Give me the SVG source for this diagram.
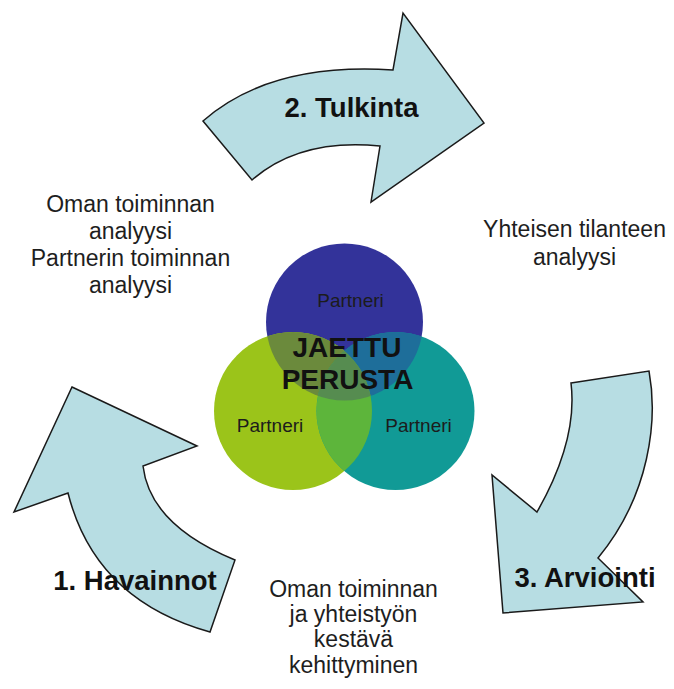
<svg xmlns="http://www.w3.org/2000/svg" width="674" height="689" viewBox="0 0 674 689">
  <style>
    .arrow { fill: #b7dde3; stroke: #1a1a1a; stroke-width: 1.5; stroke-linejoin: miter; }
    .step { font-family: "Liberation Sans", Arial, sans-serif; font-weight: bold; font-size: 27.5px; fill: #111; text-anchor: middle; }
    .note { font-family: "Liberation Sans", Arial, sans-serif; font-size: 23px; fill: #1e1e1e; text-anchor: middle; }
    .partner { font-family: "Liberation Sans", Arial, sans-serif; font-size: 19px; fill: #1c1c1c; text-anchor: middle; }
    .core { font-family: "Liberation Sans", Arial, sans-serif; font-weight: bold; font-size: 28px; fill: #111; text-anchor: middle; }
  </style>
  <defs>
    <clipPath id="cB"><circle cx="344.5" cy="322" r="78.5"/></clipPath>
    <clipPath id="cG"><circle cx="293" cy="411" r="79"/></clipPath>
  </defs>
  <rect width="674" height="689" fill="#ffffff"/>

  <g id="connectors"></g>

  <g id="step2-tulkinta">
    <path class="arrow" d="M203,121 Q270,62 393,70 L403,13 L484,123 L371,202 L380,146 Q300,138 252,180 Z"/>
    <text class="step" x="351.5" y="117">2. Tulkinta</text>
  </g>

  <g id="step3-arviointi">
    <path class="arrow" d="M571,383 L649,371 C658,420 650,495 598,558 L643,602 L503,613 L492,475 L537,512 Q578,440 571,383 Z"/>
    <text class="step" x="585" y="587">3. Arviointi</text>
  </g>

  <g id="step1-havainnot">
    <path class="arrow" d="M72,387 L197,446 L143,466 Q150,525 235,560 L210,632 Q95,600 68,493 L14,512 Z"/>
    <text class="step" x="135" y="590">1. Havainnot</text>
  </g>

  <g id="venn">
    <circle cx="344.5" cy="322" r="78.5" fill="#33339a"/>
    <circle cx="293" cy="411" r="79" fill="#9bc41a"/>
    <circle cx="395.5" cy="411" r="79" fill="#119a96"/>
    <circle cx="293" cy="411" r="79" fill="#6b8a3c" clip-path="url(#cB)"/>
    <circle cx="395.5" cy="411" r="79" fill="#1e6e9a" clip-path="url(#cB)"/>
    <circle cx="395.5" cy="411" r="79" fill="#5db53b" clip-path="url(#cG)"/>
    <g clip-path="url(#cB)">
      <circle cx="395.5" cy="411" r="79" fill="#568c50" clip-path="url(#cG)"/>
    </g>
  </g>

  <g id="partner-top">
    <text class="partner" x="350.5" y="307">Partneri</text>
  </g>
  <g id="partner-left">
    <text class="partner" x="270" y="432">Partneri</text>
  </g>
  <g id="partner-right">
    <text class="partner" x="418.5" y="432">Partneri</text>
  </g>
  <g id="shared-base">
    <text class="core" x="347" y="357">JAETTU</text>
    <text class="core" x="347.5" y="389">PERUSTA</text>
  </g>

  <g id="note-left">
    <text class="note" x="130.5" y="212">Oman toiminnan</text>
    <text class="note" x="130.5" y="239">analyysi</text>
    <text class="note" x="130.5" y="266">Partnerin toiminnan</text>
    <text class="note" x="130.5" y="293">analyysi</text>
  </g>

  <g id="note-right">
    <text class="note" x="574.5" y="237">Yhteisen tilanteen</text>
    <text class="note" x="574.5" y="265">analyysi</text>
  </g>

  <g id="note-bottom">
    <text class="note" x="353.5" y="597">Oman toiminnan</text>
    <text class="note" x="353.5" y="622">ja yhteistyön</text>
    <text class="note" x="353.5" y="647">kestävä</text>
    <text class="note" x="353.5" y="673">kehittyminen</text>
  </g>
</svg>
